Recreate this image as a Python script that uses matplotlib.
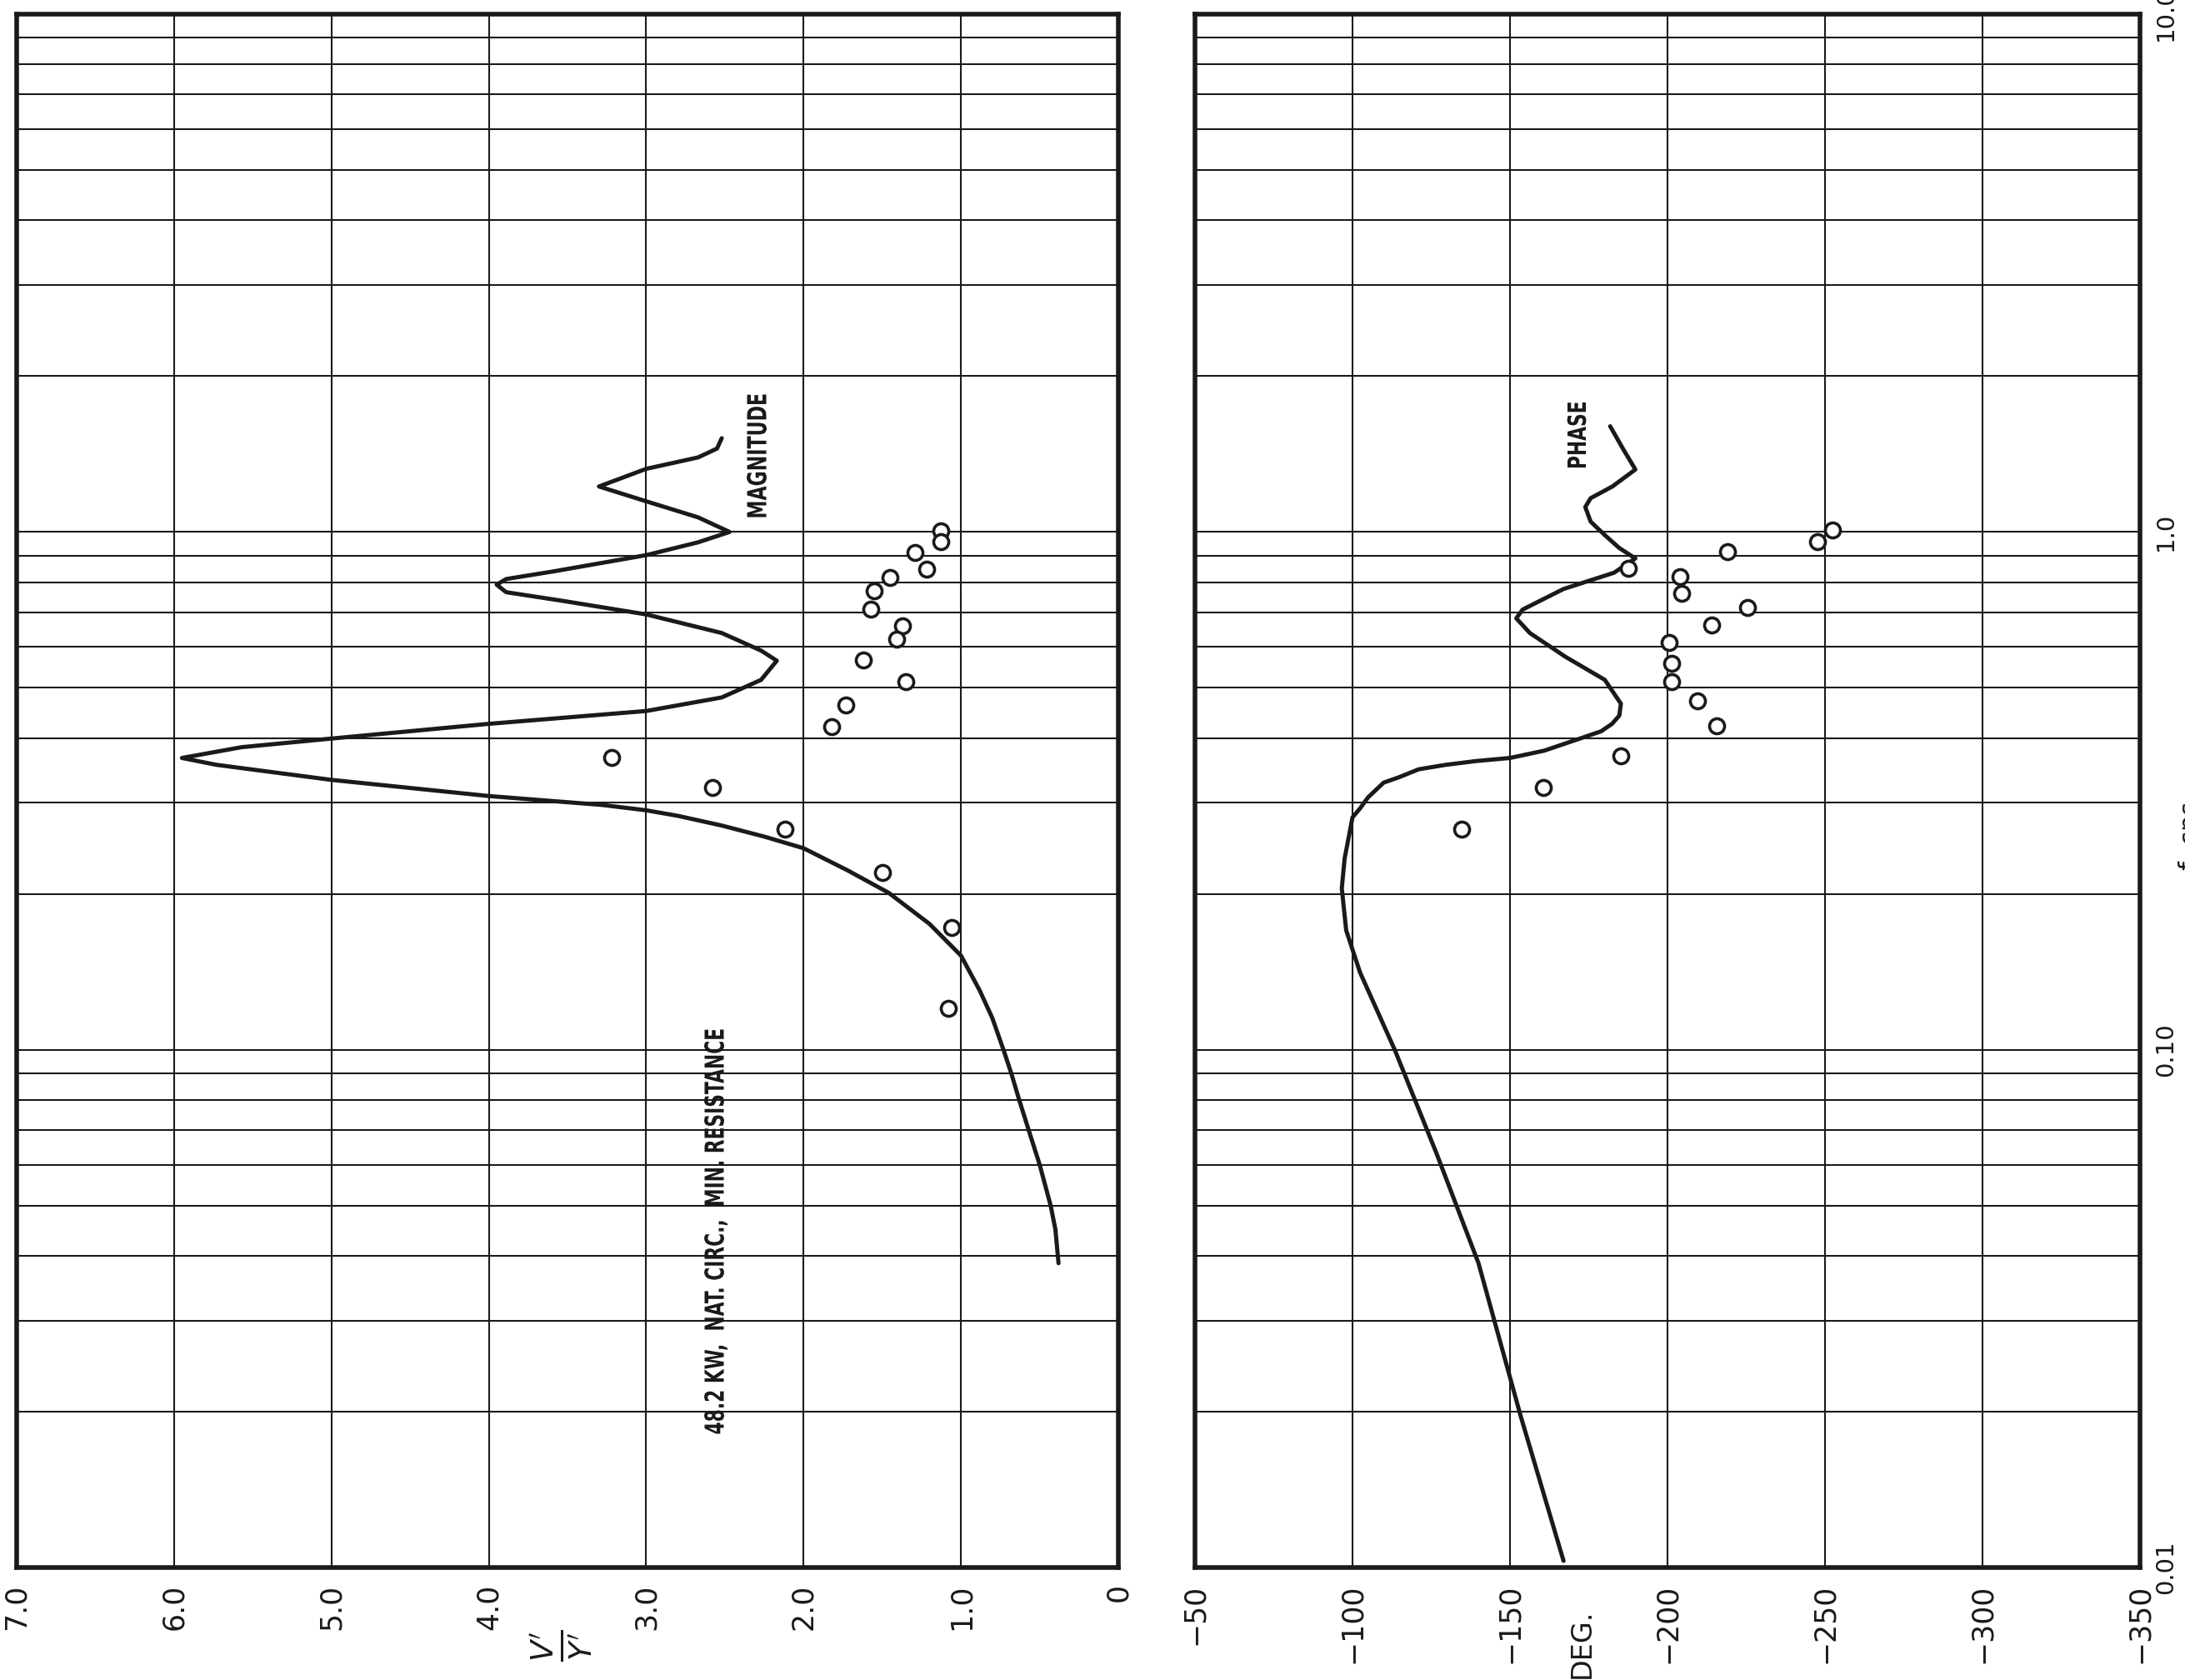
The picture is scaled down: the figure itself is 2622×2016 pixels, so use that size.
import matplotlib
matplotlib.use("Agg")
import matplotlib.pyplot as plt
from matplotlib.ticker import LogLocator, NullFormatter
from matplotlib.textpath import TextPath
from matplotlib.patches import PathPatch
from matplotlib.font_manager import FontProperties
from matplotlib.transforms import Affine2D, IdentityTransform
import numpy as np

# chart is stored sideways: frequency runs up the page, values run right-to-left
W, H = 2622, 2016

# magnitude curve (f in cps, V'/Y')
mag_curve_f = [0.0387, 0.045, 0.050, 0.060, 0.070, 0.080, 0.090, 0.100, 0.115, 0.130,
               0.152, 0.175, 0.201, 0.222, 0.245, 0.258, 0.271, 0.283, 0.290, 0.297,
               0.309, 0.332, 0.355, 0.366, 0.384, 0.399, 0.426, 0.451, 0.479, 0.518,
               0.564, 0.590, 0.638, 0.693, 0.736, 0.765, 0.791, 0.811, 0.839, 0.902,
               0.955, 1.000, 1.067, 1.146, 1.224, 1.324, 1.393, 1.449, 1.517]
mag_curve_v = [0.38, 0.40, 0.43, 0.50, 0.57, 0.63, 0.68, 0.73, 0.80, 0.88,
               1.00, 1.20, 1.46, 1.72, 2.00, 2.25, 2.52, 2.80, 3.00, 3.28,
               4.00, 5.00, 5.73, 5.95, 5.57, 5.00, 4.00, 3.00, 2.52, 2.27,
               2.17, 2.27, 2.52, 3.00, 3.53, 3.89, 3.95, 3.89, 3.59, 3.00,
               2.67, 2.47, 2.67, 3.00, 3.30, 3.00, 2.67, 2.55, 2.52]

# measured magnitude points
mag_pts_f = [1.005, 0.957, 0.914, 0.847, 0.816, 0.771, 0.710, 0.659, 0.620, 0.565,
             0.513, 0.464, 0.421, 0.367, 0.321, 0.267, 0.220, 0.172, 0.120]
mag_pts_v = [1.13, 1.13, 1.29, 1.22, 1.45, 1.55, 1.57, 1.37, 1.41, 1.62,
             1.35, 1.73, 1.82, 3.22, 2.58, 2.12, 1.50, 1.06, 1.08]

# phase curve (deg)
phase_curve_f = [0.0103, 0.0196, 0.0387, 0.063, 0.100, 0.141, 0.170, 0.205, 0.234, 0.281,
                 0.293, 0.307, 0.328, 0.336, 0.348, 0.355, 0.361, 0.366, 0.378, 0.399,
                 0.412, 0.426, 0.442, 0.466, 0.518, 0.574, 0.638, 0.681, 0.708, 0.776,
                 0.834, 0.889, 0.931, 0.986, 1.047, 1.117, 1.162, 1.224, 1.32, 1.45, 1.60]
phase_curve_v = [-167.0, -153.4, -140.0, -126.7, -113.4, -102.4, -98.0, -96.6, -97.5, -100.0,
                 -102.5, -104.9, -109.9, -114.8, -121.0, -129.6, -139.2, -150.0, -160.8, -172.2,
                 -178.9, -182.4, -184.7, -185.2, -180.1, -167.6, -156.3, -152.0, -154.0, -167.0,
                 -183.0, -189.8, -184.7, -180.1, -175.6, -173.9, -175.6, -182.5, -189.8, -185.8, -181.8]

# measured phase points
phase_pts_f = [1.007, 0.958, 0.915, 0.852, 0.821, 0.760, 0.714, 0.661, 0.611, 0.558,
               0.513, 0.471, 0.423, 0.370, 0.321, 0.267]
phase_pts_v = [-252.4, -247.6, -219.0, -187.5, -203.9, -204.4, -225.3, -214.0, -200.6, -201.2,
               -201.2, -209.5, -215.5, -185.2, -160.5, -134.6]

mag_ticks = [7, 6, 5, 4, 3, 2, 1, 0]
mag_tick_labels = ['7.0', '6.0', '5.0', '4.0', '3.0', '2.0', '1.0', '0']
phase_ticks = [-50, -100, -150, -200, -250, -300, -350]
phase_tick_labels = ['\u221250', '\u2212100', '\u2212150', '\u2212200', '\u2212250', '\u2212300', '\u2212350']
freq_ticks = [0.01, 0.1, 1.0, 10.0]
freq_tick_labels = ['0.01', '0.10', '1.0', '10.0']

INK = '#1a1a1a'

fig = plt.figure(figsize=(W / 100, H / 100), dpi=100)
fig.patch.set_facecolor('white')


def frame(ax, xlim, ticks, labels):
    ax.set_yscale('log')
    ax.set_ylim(0.01, 10.0)
    ax.set_xlim(*xlim)
    ax.set_xticks(ticks)
    ax.set_xticklabels(labels, rotation=90, fontsize=25, color=INK)
    ax.yaxis.set_minor_locator(LogLocator(base=10, subs=np.arange(2, 10)))
    ax.yaxis.set_minor_formatter(NullFormatter())
    ax.tick_params(axis='both', which='both', length=0)
    ax.tick_params(axis='x', pad=14)
    ax.grid(True, which='both', color=INK, linewidth=1.5)
    ax.set_axisbelow(True)
    for s in ax.spines.values():
        s.set_linewidth(4)
        s.set_color(INK)


ax1 = fig.add_axes([20 / W, 1 - 1881 / H, (1342 - 20) / W, (1881 - 17) / H])
frame(ax1, (7, 0), mag_ticks, mag_tick_labels)
ax1.set_yticks(freq_ticks)
ax1.set_yticklabels([])
ax1.plot(mag_curve_v, mag_curve_f, color=INK, linewidth=3.6,
         solid_capstyle='round', solid_joinstyle='round')
ax1.plot(mag_pts_v, mag_pts_f, linestyle='none', marker='o', markersize=13,
         markerfacecolor='white', markeredgecolor=INK, markeredgewidth=2.6, zorder=4)

ax2 = fig.add_axes([1434 / W, 1 - 1881 / H, (2568 - 1434) / W, (1881 - 17) / H])
frame(ax2, (-50, -350), phase_ticks, phase_tick_labels)
ax2.yaxis.tick_right()
ax2.set_yticks(freq_ticks)
ax2.set_yticklabels(freq_tick_labels, rotation=90, va='center', fontsize=21, color=INK)
ax2.tick_params(axis='y', which='both', length=0, pad=12)
ax2.plot(phase_curve_v, phase_curve_f, color=INK, linewidth=3.6,
         solid_capstyle='round', solid_joinstyle='round')
ax2.plot(phase_pts_v, phase_pts_f, linestyle='none', marker='o', markersize=13,
         markerfacecolor='white', markeredgecolor=INK, markeredgewidth=2.6, zorder=4)


def note(x, y, s, size, **kw):
    fig.text(x / W, 1 - y / H, s, rotation=90, ha='center', va='center',
             fontsize=size, color=INK, **kw)


def narrow_note(x, y, s, cap_px, length_px):
    # the typed labels are a condensed face: squeeze a text path to fit
    tp = TextPath((0, 0), s, size=100, prop=FontProperties(family='DejaVu Sans', weight='bold'))
    ext = tp.get_extents()
    cap = 72.9
    tr = (Affine2D().translate(-(ext.x0 + ext.width / 2), -cap / 2)
          .scale(length_px / ext.width, cap_px / cap)
          .rotate_deg(90).translate(x, H - y))
    fig.add_artist(PathPatch(tr.transform_path(tp), facecolor=INK, edgecolor='none',
                             transform=IdentityTransform()))


narrow_note(908, 547, 'MAGNITUDE', 23, 147)
narrow_note(1892, 522, 'PHASE', 22, 78)
narrow_note(857, 1478, '48.2 KW,  NAT. CIRC.,  MIN. RESISTANCE', 23, 485)
note(674, 1975, r"$\frac{V'}{Y'}$", 38)
note(1898, 1972, 'DEG.', 24)
fig.text(2614 / W, 1 - 1003 / H, 'f, cps', rotation=90, ha='left', va='center',
         fontsize=22, color=INK)

fig.savefig('out.png', dpi=100)
